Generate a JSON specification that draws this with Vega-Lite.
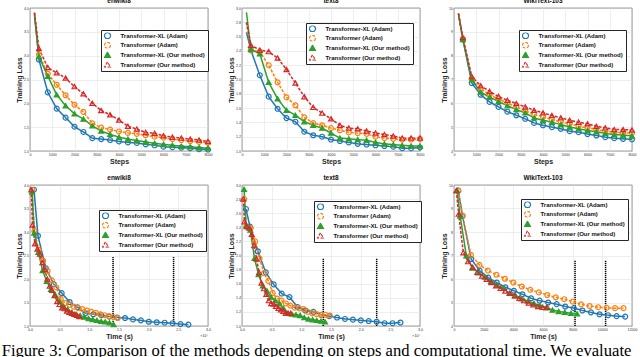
{
"$schema": "https://vega.github.io/schema/vega-lite/v6.json",
"background": "white",
"padding": {"left": 1, "top": -3, "right": 0, "bottom": 0},
"title": {"text": "Figure 3:  Comparison of the methods depending on steps and computational time.  We evaluate", "orient": "bottom", "anchor": "start", "font": "Liberation Serif", "fontSize": 16.6, "fontWeight": "normal", "color": "black", "offset": 3, "dx": -13},
"datasets": {
"ew_s": [
{"s":"A","x":200,"y":3.9},{"s":"A","x":400,"y":2.92},{"s":"A","x":800,"y":2.23},{"s":"A","x":1200,"y":1.89},{"s":"A","x":1600,"y":1.70},{"s":"A","x":2000,"y":1.51},{"s":"A","x":2400,"y":1.40},{"s":"A","x":2800,"y":1.27},{"s":"A","x":3200,"y":1.25},{"s":"A","x":3600,"y":1.23},{"s":"A","x":4000,"y":1.20},{"s":"A","x":4400,"y":1.18},{"s":"A","x":4800,"y":1.17},{"s":"A","x":5200,"y":1.14},{"s":"A","x":5600,"y":1.12},{"s":"A","x":6000,"y":1.09},{"s":"A","x":6400,"y":1.08},{"s":"A","x":6800,"y":1.07},{"s":"A","x":7200,"y":1.06},{"s":"A","x":7600,"y":1.04},{"s":"A","x":8000,"y":1.03},
{"s":"B","x":200,"y":3.9},{"s":"B","x":400,"y":3.02},{"s":"B","x":800,"y":2.62},{"s":"B","x":1200,"y":2.39},{"s":"B","x":1600,"y":2.17},{"s":"B","x":2000,"y":1.97},{"s":"B","x":2400,"y":1.82},{"s":"B","x":2800,"y":1.58},{"s":"B","x":3200,"y":1.49},{"s":"B","x":3600,"y":1.45},{"s":"B","x":4000,"y":1.41},{"s":"B","x":4400,"y":1.38},{"s":"B","x":4800,"y":1.36},{"s":"B","x":5200,"y":1.33},{"s":"B","x":5600,"y":1.30},{"s":"B","x":6000,"y":1.28},{"s":"B","x":6400,"y":1.25},{"s":"B","x":6800,"y":1.23},{"s":"B","x":7200,"y":1.21},{"s":"B","x":7600,"y":1.19},{"s":"B","x":8000,"y":1.17},
{"s":"C","x":200,"y":3.85},{"s":"C","x":400,"y":2.98},{"s":"C","x":800,"y":2.57},{"s":"C","x":1200,"y":2.18},{"s":"C","x":1600,"y":1.95},{"s":"C","x":2000,"y":1.78},{"s":"C","x":2400,"y":1.67},{"s":"C","x":2800,"y":1.53},{"s":"C","x":3200,"y":1.42},{"s":"C","x":3600,"y":1.35},{"s":"C","x":4000,"y":1.29},{"s":"C","x":4400,"y":1.25},{"s":"C","x":4800,"y":1.22},{"s":"C","x":5200,"y":1.19},{"s":"C","x":5600,"y":1.16},{"s":"C","x":6000,"y":1.14},{"s":"C","x":6400,"y":1.12},{"s":"C","x":6800,"y":1.10},{"s":"C","x":7200,"y":1.09},{"s":"C","x":7600,"y":1.07},{"s":"C","x":8000,"y":1.06},
{"s":"D","x":200,"y":3.9},{"s":"D","x":400,"y":3.15},{"s":"D","x":800,"y":2.75},{"s":"D","x":1200,"y":2.64},{"s":"D","x":1600,"y":2.53},{"s":"D","x":2000,"y":2.35},{"s":"D","x":2400,"y":2.20},{"s":"D","x":2800,"y":2.0},{"s":"D","x":3200,"y":1.85},{"s":"D","x":3600,"y":1.76},{"s":"D","x":4000,"y":1.65},{"s":"D","x":4400,"y":1.52},{"s":"D","x":4800,"y":1.46},{"s":"D","x":5200,"y":1.39},{"s":"D","x":5600,"y":1.37},{"s":"D","x":6000,"y":1.32},{"s":"D","x":6400,"y":1.29},{"s":"D","x":6800,"y":1.27},{"s":"D","x":7200,"y":1.25},{"s":"D","x":7600,"y":1.23},{"s":"D","x":8000,"y":1.20}
],
"t8_s": [
{"s":"A","x":200,"y":2.66},{"s":"A","x":400,"y":2.41},{"s":"A","x":800,"y":2.06},{"s":"A","x":1200,"y":1.76},{"s":"A","x":1600,"y":1.59},{"s":"A","x":2000,"y":1.46},{"s":"A","x":2400,"y":1.41},{"s":"A","x":2800,"y":1.27},{"s":"A","x":3200,"y":1.22},{"s":"A","x":3600,"y":1.20},{"s":"A","x":4000,"y":1.16},{"s":"A","x":4400,"y":1.14},{"s":"A","x":4800,"y":1.12},{"s":"A","x":5200,"y":1.10},{"s":"A","x":5600,"y":1.09},{"s":"A","x":6000,"y":1.08},{"s":"A","x":6400,"y":1.07},{"s":"A","x":6800,"y":1.06},{"s":"A","x":7200,"y":1.04},{"s":"A","x":7600,"y":1.04},{"s":"A","x":8000,"y":1.05},
{"s":"B","x":200,"y":2.80},{"s":"B","x":400,"y":2.41},{"s":"B","x":800,"y":2.39},{"s":"B","x":1200,"y":2.20},{"s":"B","x":1600,"y":1.96},{"s":"B","x":2000,"y":1.75},{"s":"B","x":2400,"y":1.64},{"s":"B","x":2800,"y":1.47},{"s":"B","x":3200,"y":1.39},{"s":"B","x":3600,"y":1.36},{"s":"B","x":4000,"y":1.32},{"s":"B","x":4400,"y":1.29},{"s":"B","x":4800,"y":1.26},{"s":"B","x":5200,"y":1.25},{"s":"B","x":5600,"y":1.24},{"s":"B","x":6000,"y":1.20},{"s":"B","x":6400,"y":1.18},{"s":"B","x":6800,"y":1.17},{"s":"B","x":7200,"y":1.16},{"s":"B","x":7600,"y":1.16},{"s":"B","x":8000,"y":1.17},
{"s":"C","x":200,"y":2.94},{"s":"C","x":400,"y":2.42},{"s":"C","x":800,"y":2.36},{"s":"C","x":1200,"y":1.96},{"s":"C","x":1600,"y":1.73},{"s":"C","x":2000,"y":1.57},{"s":"C","x":2400,"y":1.50},{"s":"C","x":2800,"y":1.41},{"s":"C","x":3200,"y":1.36},{"s":"C","x":3600,"y":1.32},{"s":"C","x":4000,"y":1.25},{"s":"C","x":4400,"y":1.18},{"s":"C","x":4800,"y":1.17},{"s":"C","x":5200,"y":1.16},{"s":"C","x":5600,"y":1.15},{"s":"C","x":6000,"y":1.12},{"s":"C","x":6400,"y":1.10},{"s":"C","x":6800,"y":1.09},{"s":"C","x":7200,"y":1.08},{"s":"C","x":7600,"y":1.07},{"s":"C","x":8000,"y":1.07},
{"s":"D","x":200,"y":2.80},{"s":"D","x":400,"y":2.48},{"s":"D","x":800,"y":2.41},{"s":"D","x":1200,"y":2.39},{"s":"D","x":1600,"y":2.30},{"s":"D","x":2000,"y":2.14},{"s":"D","x":2400,"y":1.95},{"s":"D","x":2800,"y":1.76},{"s":"D","x":3200,"y":1.61},{"s":"D","x":3600,"y":1.53},{"s":"D","x":4000,"y":1.45},{"s":"D","x":4400,"y":1.36},{"s":"D","x":4800,"y":1.32},{"s":"D","x":5200,"y":1.31},{"s":"D","x":5600,"y":1.28},{"s":"D","x":6000,"y":1.25},{"s":"D","x":6400,"y":1.23},{"s":"D","x":6800,"y":1.21},{"s":"D","x":7200,"y":1.18},{"s":"D","x":7600,"y":1.18},{"s":"D","x":8000,"y":1.18}
],
"wt_s": [
{"s":"A","x":200,"y":9.76},{"s":"A","x":400,"y":8.68},{"s":"A","x":800,"y":6.85},{"s":"A","x":1200,"y":6.36},{"s":"A","x":1600,"y":6.06},{"s":"A","x":2000,"y":5.85},{"s":"A","x":2400,"y":5.65},{"s":"A","x":2800,"y":5.50},{"s":"A","x":3200,"y":5.35},{"s":"A","x":3600,"y":5.18},{"s":"A","x":4000,"y":5.08},{"s":"A","x":4400,"y":5.00},{"s":"A","x":4800,"y":4.93},{"s":"A","x":5200,"y":4.83},{"s":"A","x":5600,"y":4.79},{"s":"A","x":6000,"y":4.71},{"s":"A","x":6400,"y":4.65},{"s":"A","x":6800,"y":4.58},{"s":"A","x":7200,"y":4.54},{"s":"A","x":7600,"y":4.51},{"s":"A","x":8000,"y":4.49},
{"s":"B","x":200,"y":9.76},{"s":"B","x":400,"y":8.70},{"s":"B","x":800,"y":7.03},{"s":"B","x":1200,"y":6.60},{"s":"B","x":1600,"y":6.36},{"s":"B","x":2000,"y":6.18},{"s":"B","x":2400,"y":6.01},{"s":"B","x":2800,"y":5.85},{"s":"B","x":3200,"y":5.68},{"s":"B","x":3600,"y":5.54},{"s":"B","x":4000,"y":5.43},{"s":"B","x":4400,"y":5.32},{"s":"B","x":4800,"y":5.22},{"s":"B","x":5200,"y":5.14},{"s":"B","x":5600,"y":5.04},{"s":"B","x":6000,"y":4.97},{"s":"B","x":6400,"y":4.90},{"s":"B","x":6800,"y":4.83},{"s":"B","x":7200,"y":4.79},{"s":"B","x":7600,"y":4.76},{"s":"B","x":8000,"y":4.76},
{"s":"C","x":200,"y":9.76},{"s":"C","x":400,"y":8.68},{"s":"C","x":800,"y":6.99},{"s":"C","x":1200,"y":6.47},{"s":"C","x":1600,"y":6.26},{"s":"C","x":2000,"y":6.08},{"s":"C","x":2400,"y":5.90},{"s":"C","x":2800,"y":5.74},{"s":"C","x":3200,"y":5.60},{"s":"C","x":3600,"y":5.39},{"s":"C","x":4000,"y":5.29},{"s":"C","x":4400,"y":5.21},{"s":"C","x":4800,"y":5.11},{"s":"C","x":5200,"y":5.01},{"s":"C","x":5600,"y":4.93},{"s":"C","x":6000,"y":4.86},{"s":"C","x":6400,"y":4.81},{"s":"C","x":6800,"y":4.74},{"s":"C","x":7200,"y":4.69},{"s":"C","x":7600,"y":4.67},{"s":"C","x":8000,"y":4.63},
{"s":"D","x":200,"y":9.76},{"s":"D","x":400,"y":8.76},{"s":"D","x":800,"y":7.12},{"s":"D","x":1200,"y":6.74},{"s":"D","x":1600,"y":6.50},{"s":"D","x":2000,"y":6.29},{"s":"D","x":2400,"y":6.13},{"s":"D","x":2800,"y":5.99},{"s":"D","x":3200,"y":5.85},{"s":"D","x":3600,"y":5.71},{"s":"D","x":4000,"y":5.60},{"s":"D","x":4400,"y":5.49},{"s":"D","x":4800,"y":5.39},{"s":"D","x":5200,"y":5.29},{"s":"D","x":5600,"y":5.21},{"s":"D","x":6000,"y":5.14},{"s":"D","x":6400,"y":5.04},{"s":"D","x":6800,"y":4.97},{"s":"D","x":7200,"y":4.90},{"s":"D","x":7600,"y":4.90},{"s":"D","x":8000,"y":4.88}
],
"ew_t": [
{"s":"A","x":0.067,"y":3.9},{"s":"A","x":0.134,"y":2.92},{"s":"A","x":0.267,"y":2.23},{"s":"A","x":0.401,"y":1.89},{"s":"A","x":0.534,"y":1.70},{"s":"A","x":0.668,"y":1.51},{"s":"A","x":0.801,"y":1.40},{"s":"A","x":0.935,"y":1.27},{"s":"A","x":1.068,"y":1.25},{"s":"A","x":1.202,"y":1.23},{"s":"A","x":1.335,"y":1.20},{"s":"A","x":1.469,"y":1.18},{"s":"A","x":1.602,"y":1.17},{"s":"A","x":1.736,"y":1.14},{"s":"A","x":1.869,"y":1.12},{"s":"A","x":2.003,"y":1.09},{"s":"A","x":2.136,"y":1.08},{"s":"A","x":2.27,"y":1.07},{"s":"A","x":2.403,"y":1.06},{"s":"A","x":2.537,"y":1.04},{"s":"A","x":2.67,"y":1.03},
{"s":"B","x":0.037,"y":3.9},{"s":"B","x":0.074,"y":3.02},{"s":"B","x":0.148,"y":2.62},{"s":"B","x":0.222,"y":2.39},{"s":"B","x":0.296,"y":2.17},{"s":"B","x":0.37,"y":1.97},{"s":"B","x":0.444,"y":1.82},{"s":"B","x":0.518,"y":1.58},{"s":"B","x":0.592,"y":1.49},{"s":"B","x":0.666,"y":1.45},{"s":"B","x":0.74,"y":1.41},{"s":"B","x":0.814,"y":1.38},{"s":"B","x":0.888,"y":1.36},{"s":"B","x":0.962,"y":1.33},{"s":"B","x":1.036,"y":1.30},{"s":"B","x":1.11,"y":1.28},{"s":"B","x":1.184,"y":1.25},{"s":"B","x":1.258,"y":1.23},{"s":"B","x":1.332,"y":1.21},{"s":"B","x":1.406,"y":1.19},{"s":"B","x":1.48,"y":1.17},
{"s":"C","x":0.035,"y":3.85},{"s":"C","x":0.071,"y":2.98},{"s":"C","x":0.141,"y":2.57},{"s":"C","x":0.212,"y":2.18},{"s":"C","x":0.282,"y":1.95},{"s":"C","x":0.353,"y":1.78},{"s":"C","x":0.423,"y":1.67},{"s":"C","x":0.494,"y":1.53},{"s":"C","x":0.564,"y":1.42},{"s":"C","x":0.635,"y":1.35},{"s":"C","x":0.705,"y":1.29},{"s":"C","x":0.776,"y":1.25},{"s":"C","x":0.846,"y":1.22},{"s":"C","x":0.917,"y":1.19},{"s":"C","x":0.987,"y":1.16},{"s":"C","x":1.058,"y":1.14},{"s":"C","x":1.128,"y":1.12},{"s":"C","x":1.199,"y":1.10},{"s":"C","x":1.269,"y":1.09},{"s":"C","x":1.34,"y":1.07},{"s":"C","x":1.41,"y":1.03},
{"s":"D","x":0.021,"y":3.9},{"s":"D","x":0.042,"y":3.15},{"s":"D","x":0.083,"y":2.75},{"s":"D","x":0.125,"y":2.64},{"s":"D","x":0.166,"y":2.53},{"s":"D","x":0.208,"y":2.35},{"s":"D","x":0.249,"y":2.20},{"s":"D","x":0.291,"y":2.0},{"s":"D","x":0.332,"y":1.85},{"s":"D","x":0.374,"y":1.76},{"s":"D","x":0.415,"y":1.65},{"s":"D","x":0.457,"y":1.52},{"s":"D","x":0.498,"y":1.46},{"s":"D","x":0.54,"y":1.39},{"s":"D","x":0.581,"y":1.37},{"s":"D","x":0.623,"y":1.32},{"s":"D","x":0.664,"y":1.29},{"s":"D","x":0.706,"y":1.27},{"s":"D","x":0.747,"y":1.25},{"s":"D","x":0.789,"y":1.23},{"s":"D","x":0.83,"y":1.20}
],
"t8_t": [
{"s":"A","x":0.067,"y":2.66},{"s":"A","x":0.134,"y":2.41},{"s":"A","x":0.267,"y":2.06},{"s":"A","x":0.401,"y":1.76},{"s":"A","x":0.534,"y":1.59},{"s":"A","x":0.668,"y":1.46},{"s":"A","x":0.801,"y":1.41},{"s":"A","x":0.935,"y":1.27},{"s":"A","x":1.068,"y":1.22},{"s":"A","x":1.202,"y":1.20},{"s":"A","x":1.335,"y":1.16},{"s":"A","x":1.469,"y":1.14},{"s":"A","x":1.602,"y":1.12},{"s":"A","x":1.736,"y":1.10},{"s":"A","x":1.869,"y":1.09},{"s":"A","x":2.003,"y":1.08},{"s":"A","x":2.136,"y":1.07},{"s":"A","x":2.27,"y":1.06},{"s":"A","x":2.403,"y":1.04},{"s":"A","x":2.537,"y":1.04},{"s":"A","x":2.67,"y":1.05},
{"s":"B","x":0.037,"y":2.80},{"s":"B","x":0.074,"y":2.41},{"s":"B","x":0.148,"y":2.39},{"s":"B","x":0.222,"y":2.20},{"s":"B","x":0.296,"y":1.96},{"s":"B","x":0.37,"y":1.75},{"s":"B","x":0.444,"y":1.64},{"s":"B","x":0.518,"y":1.47},{"s":"B","x":0.592,"y":1.39},{"s":"B","x":0.666,"y":1.36},{"s":"B","x":0.74,"y":1.32},{"s":"B","x":0.814,"y":1.29},{"s":"B","x":0.888,"y":1.26},{"s":"B","x":0.962,"y":1.25},{"s":"B","x":1.036,"y":1.24},{"s":"B","x":1.11,"y":1.20},{"s":"B","x":1.184,"y":1.18},{"s":"B","x":1.258,"y":1.17},{"s":"B","x":1.332,"y":1.16},{"s":"B","x":1.406,"y":1.16},{"s":"B","x":1.48,"y":1.15},
{"s":"C","x":0.035,"y":2.94},{"s":"C","x":0.07,"y":2.42},{"s":"C","x":0.14,"y":2.36},{"s":"C","x":0.21,"y":1.96},{"s":"C","x":0.28,"y":1.73},{"s":"C","x":0.35,"y":1.57},{"s":"C","x":0.42,"y":1.50},{"s":"C","x":0.49,"y":1.41},{"s":"C","x":0.56,"y":1.36},{"s":"C","x":0.63,"y":1.32},{"s":"C","x":0.7,"y":1.25},{"s":"C","x":0.77,"y":1.18},{"s":"C","x":0.84,"y":1.17},{"s":"C","x":0.91,"y":1.16},{"s":"C","x":0.98,"y":1.15},{"s":"C","x":1.05,"y":1.12},{"s":"C","x":1.12,"y":1.10},{"s":"C","x":1.19,"y":1.09},{"s":"C","x":1.26,"y":1.08},{"s":"C","x":1.33,"y":1.07},{"s":"C","x":1.4,"y":1.06},
{"s":"D","x":0.021,"y":2.80},{"s":"D","x":0.041,"y":2.48},{"s":"D","x":0.082,"y":2.41},{"s":"D","x":0.123,"y":2.39},{"s":"D","x":0.164,"y":2.30},{"s":"D","x":0.205,"y":2.14},{"s":"D","x":0.246,"y":1.95},{"s":"D","x":0.287,"y":1.76},{"s":"D","x":0.328,"y":1.61},{"s":"D","x":0.369,"y":1.53},{"s":"D","x":0.41,"y":1.45},{"s":"D","x":0.451,"y":1.36},{"s":"D","x":0.492,"y":1.32},{"s":"D","x":0.533,"y":1.31},{"s":"D","x":0.574,"y":1.28},{"s":"D","x":0.615,"y":1.25},{"s":"D","x":0.656,"y":1.23},{"s":"D","x":0.697,"y":1.21},{"s":"D","x":0.738,"y":1.18},{"s":"D","x":0.779,"y":1.18},{"s":"D","x":0.82,"y":1.18}
],
"wt_t": [
{"s":"A","x":289,"y":9.76},{"s":"A","x":577,"y":8.68},{"s":"A","x":1154,"y":6.85},{"s":"A","x":1731,"y":6.36},{"s":"A","x":2308,"y":6.06},{"s":"A","x":2885,"y":5.85},{"s":"A","x":3462,"y":5.65},{"s":"A","x":4039,"y":5.50},{"s":"A","x":4616,"y":5.35},{"s":"A","x":5193,"y":5.18},{"s":"A","x":5770,"y":5.08},{"s":"A","x":6347,"y":5.00},{"s":"A","x":6924,"y":4.93},{"s":"A","x":7501,"y":4.83},{"s":"A","x":8078,"y":4.76},{"s":"A","x":8655,"y":4.66},{"s":"A","x":9232,"y":4.58},{"s":"A","x":9809,"y":4.50},{"s":"A","x":10386,"y":4.46},{"s":"A","x":10963,"y":4.42},{"s":"A","x":11540,"y":4.40},
{"s":"B","x":286,"y":9.76},{"s":"B","x":572,"y":8.70},{"s":"B","x":1143,"y":7.03},{"s":"B","x":1715,"y":6.60},{"s":"B","x":2286,"y":6.36},{"s":"B","x":2858,"y":6.18},{"s":"B","x":3429,"y":6.01},{"s":"B","x":4001,"y":5.85},{"s":"B","x":4572,"y":5.68},{"s":"B","x":5144,"y":5.54},{"s":"B","x":5715,"y":5.43},{"s":"B","x":6287,"y":5.32},{"s":"B","x":6858,"y":5.22},{"s":"B","x":7430,"y":5.14},{"s":"B","x":8001,"y":5.04},{"s":"B","x":8573,"y":4.92},{"s":"B","x":9144,"y":4.85},{"s":"B","x":9716,"y":4.80},{"s":"B","x":10287,"y":4.77},{"s":"B","x":10859,"y":4.76},{"s":"B","x":11430,"y":4.76},
{"s":"C","x":208,"y":9.76},{"s":"C","x":415,"y":8.68},{"s":"C","x":830,"y":6.99},{"s":"C","x":1245,"y":6.47},{"s":"C","x":1660,"y":6.26},{"s":"C","x":2075,"y":6.08},{"s":"C","x":2490,"y":5.90},{"s":"C","x":2905,"y":5.74},{"s":"C","x":3320,"y":5.60},{"s":"C","x":3735,"y":5.39},{"s":"C","x":4150,"y":5.29},{"s":"C","x":4565,"y":5.16},{"s":"C","x":4980,"y":5.06},{"s":"C","x":5395,"y":4.96},{"s":"C","x":5810,"y":4.86},{"s":"C","x":6225,"y":4.78},{"s":"C","x":6640,"y":4.68},{"s":"C","x":7055,"y":4.62},{"s":"C","x":7470,"y":4.58},{"s":"C","x":7885,"y":4.54},{"s":"C","x":8300,"y":4.52},
{"s":"D","x":157,"y":9.76},{"s":"D","x":315,"y":8.76},{"s":"D","x":629,"y":7.12},{"s":"D","x":944,"y":6.74},{"s":"D","x":1258,"y":6.50},{"s":"D","x":1573,"y":6.29},{"s":"D","x":1887,"y":6.13},{"s":"D","x":2202,"y":5.99},{"s":"D","x":2516,"y":5.85},{"s":"D","x":2831,"y":5.71},{"s":"D","x":3145,"y":5.60},{"s":"D","x":3460,"y":5.49},{"s":"D","x":3774,"y":5.39},{"s":"D","x":4089,"y":5.29},{"s":"D","x":4403,"y":5.18},{"s":"D","x":4718,"y":5.08},{"s":"D","x":5032,"y":4.98},{"s":"D","x":5347,"y":4.90},{"s":"D","x":5661,"y":4.83},{"s":"D","x":5976,"y":4.80},{"s":"D","x":6290,"y":4.80}
]
},
"spacing": 9,
"resolve": {"scale": {"color": "independent", "shape": "independent", "fill": "independent", "strokeDash": "independent"}},
"vconcat": [
{"hconcat": [
{"width": 178, "height": 143, "title": "enwiki8",
 "encoding": {
  "x": {"field": "x", "type": "quantitative", "scale": {"domain": [0, 8000], "nice": false}, "axis": {"values": [0,1000,2000,3000,4000,5000,6000,7000,8000], "format": "d", "title": "Steps"}},
  "y": {"field": "y", "type": "quantitative", "scale": {"domain": [1, 4], "nice": false, "zero": false}, "axis": {"values": [1,1.5,2,2.5,3,3.5,4], "title": "Training Loss"}}},
 "layer": [
  {"data": {"name": "ew_s"}, "mark": {"type": "line", "strokeWidth": 1.5}, "encoding": {
    "color": {"field": "s", "type": "nominal", "scale": {"domain": ["A","B","C","D"], "range": ["#1f77b4","#ff7f0e","#2ca02c","#d62728"]},
      "legend": {"orient": "none", "legendX": 71, "legendY": 22, "title": null, "labelExpr": "datum.value === 'A' ? 'Transformer-XL (Adam)' : datum.value === 'B' ? 'Transformer (Adam)' : datum.value === 'C' ? 'Transformer-XL (Our method)' : 'Transformer (Our method)'",
       "encode": {"symbols": {"update": {"size": {"value": 36}, "shape": {"signal": "datum.value === 'A' ? 'M-1.2,0H0.5M1.9,0H3.6M0.5,0A0.7,0.7,0,1,0,1.9,0A0.7,0.7,0,1,0,0.5,0' : datum.value === 'B' ? 'M-1.2,0H-0.1M2.5,0H3.6M0.5,0A0.7,0.7,0,1,0,1.9,0A0.7,0.7,0,1,0,0.5,0' : datum.value === 'C' ? 'M-1.2,0H3.6M1.2,-0.85L2,0.55L0.4,0.55Z' : 'M-1.2,0H-0.1M2.5,0H3.6M1.2,-0.85L2,0.55L0.4,0.55Z'"}, "fill": {"signal": "datum.value === 'C' ? '#2ca02c' : 'transparent'"}, "stroke": {"signal": "datum.value === 'A' ? '#1f77b4' : datum.value === 'B' ? '#ff7f0e' : datum.value === 'C' ? '#2ca02c' : '#d62728'"}, "strokeDash": {"value": [1, 0]}, "strokeWidth": {"value": 1.2}, "opacity": {"value": 1}}}}}},
    "strokeDash": {"field": "s", "type": "nominal", "scale": {"domain": ["A","B","C","D"], "range": [[1,0],[3,1.5],[1,0],[3,1.5]]}, "legend": null}}},
  {"data": {"name": "ew_s"}, "transform": [{"filter": "datum.x > 200"}], "mark": {"type": "point", "size": 24, "strokeWidth": 1.2, "opacity": 1}, "encoding": {
    "color": {"field": "s", "type": "nominal", "scale": {"domain": ["A","B","C","D"], "range": ["#1f77b4","#ff7f0e","#2ca02c","#d62728"]}, "legend": null},
    "shape": {"field": "s", "type": "nominal", "scale": {"domain": ["A","B","C","D"], "range": ["circle","circle","triangle-up","triangle-up"]}, "legend": null},
    "fill": {"field": "s", "type": "nominal", "scale": {"domain": ["A","B","C","D"], "range": ["transparent","transparent","#2ca02c","transparent"]}, "legend": null}}}
 ]},
{"width": 178, "height": 143, "title": "text8",
 "encoding": {
  "x": {"field": "x", "type": "quantitative", "scale": {"domain": [0, 8000], "nice": false}, "axis": {"values": [0,1000,2000,3000,4000,5000,6000,7000,8000], "format": "d", "title": "Steps"}},
  "y": {"field": "y", "type": "quantitative", "scale": {"domain": [1, 3], "nice": false, "zero": false}, "axis": {"values": [1,1.2,1.4,1.6,1.8,2,2.2,2.4,2.6,2.8,3], "title": "Training Loss"}}},
 "layer": [
  {"data": {"name": "t8_s"}, "mark": {"type": "line", "strokeWidth": 1.5}, "encoding": {
    "color": {"field": "s", "type": "nominal", "scale": {"domain": ["A","B","C","D"], "range": ["#1f77b4","#ff7f0e","#2ca02c","#d62728"]},
      "legend": {"orient": "none", "legendX": 64, "legendY": 15, "title": null, "labelExpr": "datum.value === 'A' ? 'Transformer-XL (Adam)' : datum.value === 'B' ? 'Transformer (Adam)' : datum.value === 'C' ? 'Transformer-XL (Our method)' : 'Transformer (Our method)'",
       "encode": {"symbols": {"update": {"size": {"value": 36}, "shape": {"signal": "datum.value === 'A' ? 'M-1.2,0H0.5M1.9,0H3.6M0.5,0A0.7,0.7,0,1,0,1.9,0A0.7,0.7,0,1,0,0.5,0' : datum.value === 'B' ? 'M-1.2,0H-0.1M2.5,0H3.6M0.5,0A0.7,0.7,0,1,0,1.9,0A0.7,0.7,0,1,0,0.5,0' : datum.value === 'C' ? 'M-1.2,0H3.6M1.2,-0.85L2,0.55L0.4,0.55Z' : 'M-1.2,0H-0.1M2.5,0H3.6M1.2,-0.85L2,0.55L0.4,0.55Z'"}, "fill": {"signal": "datum.value === 'C' ? '#2ca02c' : 'transparent'"}, "stroke": {"signal": "datum.value === 'A' ? '#1f77b4' : datum.value === 'B' ? '#ff7f0e' : datum.value === 'C' ? '#2ca02c' : '#d62728'"}, "strokeDash": {"value": [1, 0]}, "strokeWidth": {"value": 1.2}, "opacity": {"value": 1}}}}}},
    "strokeDash": {"field": "s", "type": "nominal", "scale": {"domain": ["A","B","C","D"], "range": [[1,0],[3,1.5],[1,0],[3,1.5]]}, "legend": null}}},
  {"data": {"name": "t8_s"}, "transform": [{"filter": "datum.x > 200"}], "mark": {"type": "point", "size": 24, "strokeWidth": 1.2, "opacity": 1}, "encoding": {
    "color": {"field": "s", "type": "nominal", "scale": {"domain": ["A","B","C","D"], "range": ["#1f77b4","#ff7f0e","#2ca02c","#d62728"]}, "legend": null},
    "shape": {"field": "s", "type": "nominal", "scale": {"domain": ["A","B","C","D"], "range": ["circle","circle","triangle-up","triangle-up"]}, "legend": null},
    "fill": {"field": "s", "type": "nominal", "scale": {"domain": ["A","B","C","D"], "range": ["transparent","transparent","#2ca02c","transparent"]}, "legend": null}}}
 ]},
{"width": 178, "height": 143, "title": "WikiText-103",
 "encoding": {
  "x": {"field": "x", "type": "quantitative", "scale": {"domain": [0, 8000], "nice": false}, "axis": {"values": [0,1000,2000,3000,4000,5000,6000,7000,8000], "format": "d", "title": "Steps"}},
  "y": {"field": "y", "type": "quantitative", "scale": {"domain": [4, 10], "nice": false, "zero": false}, "axis": {"values": [4,5,6,7,8,9,10], "title": "Training Loss"}}},
 "layer": [
  {"data": {"name": "wt_s"}, "mark": {"type": "line", "strokeWidth": 1.5}, "encoding": {
    "color": {"field": "s", "type": "nominal", "scale": {"domain": ["A","B","C","D"], "range": ["#1f77b4","#ff7f0e","#2ca02c","#d62728"]},
      "legend": {"orient": "none", "legendX": 65, "legendY": 22, "title": null, "labelExpr": "datum.value === 'A' ? 'Transformer-XL (Adam)' : datum.value === 'B' ? 'Transformer (Adam)' : datum.value === 'C' ? 'Transformer-XL (Our method)' : 'Transformer (Our method)'",
       "encode": {"symbols": {"update": {"size": {"value": 36}, "shape": {"signal": "datum.value === 'A' ? 'M-1.2,0H0.5M1.9,0H3.6M0.5,0A0.7,0.7,0,1,0,1.9,0A0.7,0.7,0,1,0,0.5,0' : datum.value === 'B' ? 'M-1.2,0H-0.1M2.5,0H3.6M0.5,0A0.7,0.7,0,1,0,1.9,0A0.7,0.7,0,1,0,0.5,0' : datum.value === 'C' ? 'M-1.2,0H3.6M1.2,-0.85L2,0.55L0.4,0.55Z' : 'M-1.2,0H-0.1M2.5,0H3.6M1.2,-0.85L2,0.55L0.4,0.55Z'"}, "fill": {"signal": "datum.value === 'C' ? '#2ca02c' : 'transparent'"}, "stroke": {"signal": "datum.value === 'A' ? '#1f77b4' : datum.value === 'B' ? '#ff7f0e' : datum.value === 'C' ? '#2ca02c' : '#d62728'"}, "strokeDash": {"value": [1, 0]}, "strokeWidth": {"value": 1.2}, "opacity": {"value": 1}}}}}},
    "strokeDash": {"field": "s", "type": "nominal", "scale": {"domain": ["A","B","C","D"], "range": [[1,0],[3,1.5],[1,0],[3,1.5]]}, "legend": null}}},
  {"data": {"name": "wt_s"}, "transform": [{"filter": "datum.x > 200"}], "mark": {"type": "point", "size": 24, "strokeWidth": 1.2, "opacity": 1}, "encoding": {
    "color": {"field": "s", "type": "nominal", "scale": {"domain": ["A","B","C","D"], "range": ["#1f77b4","#ff7f0e","#2ca02c","#d62728"]}, "legend": null},
    "shape": {"field": "s", "type": "nominal", "scale": {"domain": ["A","B","C","D"], "range": ["circle","circle","triangle-up","triangle-up"]}, "legend": null},
    "fill": {"field": "s", "type": "nominal", "scale": {"domain": ["A","B","C","D"], "range": ["transparent","transparent","#2ca02c","transparent"]}, "legend": null}}}
 ]}
], "spacing": 34, "bounds": "flush", "resolve": {"scale": {"color": "independent", "shape": "independent", "fill": "independent", "strokeDash": "independent"}}},
{"hconcat": [
{"width": 178, "height": 141, "title": "enwiki8",
 "encoding": {
  "x": {"field": "x", "type": "quantitative", "scale": {"domain": [0, 3], "nice": false}, "axis": {"values": [0,0.5,1,1.5,2,2.5,3], "title": "Time (s)"}},
  "y": {"field": "y", "type": "quantitative", "scale": {"domain": [1, 4], "nice": false, "zero": false}, "axis": {"values": [1,1.5,2,2.5,3,3.5,4], "title": "Training Loss"}}},
 "layer": [
  {"data": {"values": [{"x": 1.40, "y": 1, "y2v": 2.47}, {"x": 2.42, "y": 1, "y2v": 2.47}]}, "mark": {"type": "rule", "strokeDash": [1.2, 0.8], "strokeWidth": 1.5, "color": "black"}, "encoding": {"y2": {"field": "y2v"}}},
  {"data": {"name": "ew_t"}, "mark": {"type": "line", "strokeWidth": 1.5}, "encoding": {
    "color": {"field": "s", "type": "nominal", "scale": {"domain": ["A","B","C","D"], "range": ["#1f77b4","#ff7f0e","#2ca02c","#d62728"]},
      "legend": {"orient": "none", "legendX": 69, "legendY": 25, "title": null, "labelExpr": "datum.value === 'A' ? 'Transformer-XL (Adam)' : datum.value === 'B' ? 'Transformer (Adam)' : datum.value === 'C' ? 'Transformer-XL (Our method)' : 'Transformer (Our method)'",
       "encode": {"symbols": {"update": {"size": {"value": 36}, "shape": {"signal": "datum.value === 'A' ? 'M-1.2,0H0.5M1.9,0H3.6M0.5,0A0.7,0.7,0,1,0,1.9,0A0.7,0.7,0,1,0,0.5,0' : datum.value === 'B' ? 'M-1.2,0H-0.1M2.5,0H3.6M0.5,0A0.7,0.7,0,1,0,1.9,0A0.7,0.7,0,1,0,0.5,0' : datum.value === 'C' ? 'M-1.2,0H3.6M1.2,-0.85L2,0.55L0.4,0.55Z' : 'M-1.2,0H-0.1M2.5,0H3.6M1.2,-0.85L2,0.55L0.4,0.55Z'"}, "fill": {"signal": "datum.value === 'C' ? '#2ca02c' : 'transparent'"}, "stroke": {"signal": "datum.value === 'A' ? '#1f77b4' : datum.value === 'B' ? '#ff7f0e' : datum.value === 'C' ? '#2ca02c' : '#d62728'"}, "strokeDash": {"value": [1, 0]}, "strokeWidth": {"value": 1.2}, "opacity": {"value": 1}}}}}},
    "strokeDash": {"field": "s", "type": "nominal", "scale": {"domain": ["A","B","C","D"], "range": [[1,0],[3,1.5],[1,0],[3,1.5]]}, "legend": null}}},
  {"data": {"name": "ew_t"}, "mark": {"type": "point", "size": 24, "strokeWidth": 1.2, "opacity": 1}, "encoding": {
    "color": {"field": "s", "type": "nominal", "scale": {"domain": ["A","B","C","D"], "range": ["#1f77b4","#ff7f0e","#2ca02c","#d62728"]}, "legend": null},
    "shape": {"field": "s", "type": "nominal", "scale": {"domain": ["A","B","C","D"], "range": ["circle","circle","triangle-up","triangle-up"]}, "legend": null},
    "fill": {"field": "s", "type": "nominal", "scale": {"domain": ["A","B","C","D"], "range": ["transparent","transparent","#2ca02c","transparent"]}, "legend": null}}},
  {"data": {"values": [{"x": 3, "y": 1}]}, "mark": {"type": "text", "text": "×10⁴", "fontSize": 3.6, "align": "right", "baseline": "top", "dy": 8, "color": "#262626", "font": "Liberation Sans"}, "encoding": {}}
 ]},
{"width": 178, "height": 141, "title": "text8",
 "encoding": {
  "x": {"field": "x", "type": "quantitative", "scale": {"domain": [0, 3], "nice": false}, "axis": {"values": [0,0.5,1,1.5,2,2.5,3], "title": "Time (s)"}},
  "y": {"field": "y", "type": "quantitative", "scale": {"domain": [1, 3], "nice": false, "zero": false}, "axis": {"values": [1,1.2,1.4,1.6,1.8,2,2.2,2.4,2.6,2.8,3], "title": "Training Loss"}}},
 "layer": [
  {"data": {"values": [{"x": 1.37, "y": 1, "y2v": 1.96}, {"x": 2.27, "y": 1, "y2v": 1.96}]}, "mark": {"type": "rule", "strokeDash": [1.2, 0.8], "strokeWidth": 1.5, "color": "black"}, "encoding": {"y2": {"field": "y2v"}}},
  {"data": {"name": "t8_t"}, "mark": {"type": "line", "strokeWidth": 1.5}, "encoding": {
    "color": {"field": "s", "type": "nominal", "scale": {"domain": ["A","B","C","D"], "range": ["#1f77b4","#ff7f0e","#2ca02c","#d62728"]},
      "legend": {"orient": "none", "legendX": 72, "legendY": 16, "title": null, "labelExpr": "datum.value === 'A' ? 'Transformer-XL (Adam)' : datum.value === 'B' ? 'Transformer (Adam)' : datum.value === 'C' ? 'Transformer-XL (Our method)' : 'Transformer (Our method)'",
       "encode": {"symbols": {"update": {"size": {"value": 36}, "shape": {"signal": "datum.value === 'A' ? 'M-1.2,0H0.5M1.9,0H3.6M0.5,0A0.7,0.7,0,1,0,1.9,0A0.7,0.7,0,1,0,0.5,0' : datum.value === 'B' ? 'M-1.2,0H-0.1M2.5,0H3.6M0.5,0A0.7,0.7,0,1,0,1.9,0A0.7,0.7,0,1,0,0.5,0' : datum.value === 'C' ? 'M-1.2,0H3.6M1.2,-0.85L2,0.55L0.4,0.55Z' : 'M-1.2,0H-0.1M2.5,0H3.6M1.2,-0.85L2,0.55L0.4,0.55Z'"}, "fill": {"signal": "datum.value === 'C' ? '#2ca02c' : 'transparent'"}, "stroke": {"signal": "datum.value === 'A' ? '#1f77b4' : datum.value === 'B' ? '#ff7f0e' : datum.value === 'C' ? '#2ca02c' : '#d62728'"}, "strokeDash": {"value": [1, 0]}, "strokeWidth": {"value": 1.2}, "opacity": {"value": 1}}}}}},
    "strokeDash": {"field": "s", "type": "nominal", "scale": {"domain": ["A","B","C","D"], "range": [[1,0],[3,1.5],[1,0],[3,1.5]]}, "legend": null}}},
  {"data": {"name": "t8_t"}, "mark": {"type": "point", "size": 24, "strokeWidth": 1.2, "opacity": 1}, "encoding": {
    "color": {"field": "s", "type": "nominal", "scale": {"domain": ["A","B","C","D"], "range": ["#1f77b4","#ff7f0e","#2ca02c","#d62728"]}, "legend": null},
    "shape": {"field": "s", "type": "nominal", "scale": {"domain": ["A","B","C","D"], "range": ["circle","circle","triangle-up","triangle-up"]}, "legend": null},
    "fill": {"field": "s", "type": "nominal", "scale": {"domain": ["A","B","C","D"], "range": ["transparent","transparent","#2ca02c","transparent"]}, "legend": null}}},
  {"data": {"values": [{"x": 3, "y": 1}]}, "mark": {"type": "text", "text": "×10⁴", "fontSize": 3.6, "align": "right", "baseline": "top", "dy": 8, "color": "#262626", "font": "Liberation Sans"}, "encoding": {}}
 ]},
{"width": 178, "height": 141, "title": "WikiText-103",
 "encoding": {
  "x": {"field": "x", "type": "quantitative", "scale": {"domain": [0, 12000], "nice": false}, "axis": {"values": [0,2000,4000,6000,8000,10000,12000], "format": "d", "title": "Time (s)"}},
  "y": {"field": "y", "type": "quantitative", "scale": {"domain": [4, 10], "nice": false, "zero": false}, "axis": {"values": [4,5,6,7,8,9,10], "title": "Training Loss"}}},
 "layer": [
  {"data": {"values": [{"x": 8160, "y": 4, "y2v": 6.79}, {"x": 10220, "y": 4, "y2v": 6.79}]}, "mark": {"type": "rule", "strokeDash": [1.2, 0.8], "strokeWidth": 1.5, "color": "black"}, "encoding": {"y2": {"field": "y2v"}}},
  {"data": {"name": "wt_t"}, "mark": {"type": "line", "strokeWidth": 1.5}, "encoding": {
    "color": {"field": "s", "type": "nominal", "scale": {"domain": ["A","B","C","D"], "range": ["#1f77b4","#ff7f0e","#2ca02c","#d62728"]},
      "legend": {"orient": "none", "legendX": 67, "legendY": 14, "title": null, "labelExpr": "datum.value === 'A' ? 'Transformer-XL (Adam)' : datum.value === 'B' ? 'Transformer (Adam)' : datum.value === 'C' ? 'Transformer-XL (Our method)' : 'Transformer (Our method)'",
       "encode": {"symbols": {"update": {"size": {"value": 36}, "shape": {"signal": "datum.value === 'A' ? 'M-1.2,0H0.5M1.9,0H3.6M0.5,0A0.7,0.7,0,1,0,1.9,0A0.7,0.7,0,1,0,0.5,0' : datum.value === 'B' ? 'M-1.2,0H-0.1M2.5,0H3.6M0.5,0A0.7,0.7,0,1,0,1.9,0A0.7,0.7,0,1,0,0.5,0' : datum.value === 'C' ? 'M-1.2,0H3.6M1.2,-0.85L2,0.55L0.4,0.55Z' : 'M-1.2,0H-0.1M2.5,0H3.6M1.2,-0.85L2,0.55L0.4,0.55Z'"}, "fill": {"signal": "datum.value === 'C' ? '#2ca02c' : 'transparent'"}, "stroke": {"signal": "datum.value === 'A' ? '#1f77b4' : datum.value === 'B' ? '#ff7f0e' : datum.value === 'C' ? '#2ca02c' : '#d62728'"}, "strokeDash": {"value": [1, 0]}, "strokeWidth": {"value": 1.2}, "opacity": {"value": 1}}}}}},
    "strokeDash": {"field": "s", "type": "nominal", "scale": {"domain": ["A","B","C","D"], "range": [[1,0],[3,1.5],[1,0],[3,1.5]]}, "legend": null}}},
  {"data": {"name": "wt_t"}, "mark": {"type": "point", "size": 24, "strokeWidth": 1.2, "opacity": 1}, "encoding": {
    "color": {"field": "s", "type": "nominal", "scale": {"domain": ["A","B","C","D"], "range": ["#1f77b4","#ff7f0e","#2ca02c","#d62728"]}, "legend": null},
    "shape": {"field": "s", "type": "nominal", "scale": {"domain": ["A","B","C","D"], "range": ["circle","circle","triangle-up","triangle-up"]}, "legend": null},
    "fill": {"field": "s", "type": "nominal", "scale": {"domain": ["A","B","C","D"], "range": ["transparent","transparent","#2ca02c","transparent"]}, "legend": null}}}
 ]}
], "spacing": 34, "bounds": "flush", "resolve": {"scale": {"color": "independent", "shape": "independent", "fill": "independent", "strokeDash": "independent"}}}
],
"config": {
 "view": {"stroke": "#262626", "strokeWidth": 0.7},
 "axis": {"domain": false, "ticks": false, "grid": true, "gridColor": "#e2e2e2", "gridWidth": 0.6, "labelFontSize": 3.6, "labelColor": "#333333", "labelFont": "Liberation Sans", "labelPadding": 1.5, "labelFlush": false, "labelOverlap": false, "titleFont": "Liberation Sans", "titleFontSize": 7, "titleFontWeight": "bold", "titleColor": "#262626", "titlePadding": 1.5},
 "title": {"font": "Liberation Sans", "fontSize": 6.5, "fontWeight": "bold", "color": "#111111", "offset": 2},
 "legend": {"labelFont": "Liberation Sans", "labelFontSize": 6, "labelFontWeight": "bold", "labelColor": "#111111", "fillColor": "white", "strokeColor": "#262626", "padding": 2.5, "rowPadding": 2.6, "symbolSize": 36, "clipHeight": 6.4, "labelOffset": 9, "labelLimit": 200, "symbolStrokeWidth": 1.2, "cornerRadius": 0}
}
}
